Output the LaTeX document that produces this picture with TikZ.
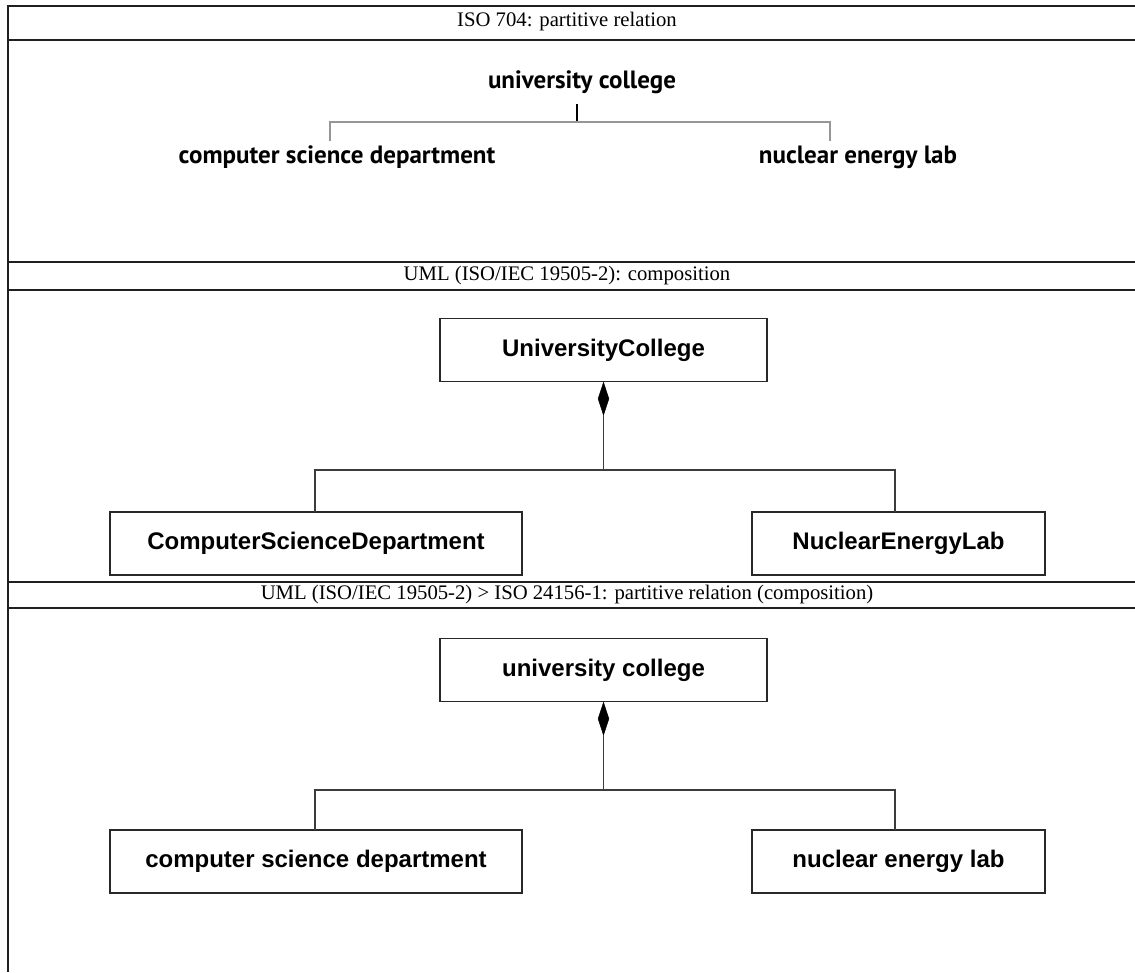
\documentclass[tikz,border=0pt]{standalone}
\usepackage{fontspec}
\setmainfont{Liberation Serif}
\newfontfamily\labfont{PT Sans}
\newfontfamily\umlfont{Liberation Sans}
\usetikzlibrary{shapes.geometric}
\begin{document}
\begin{tikzpicture}[x=1pt,y=-1pt,
  hdrline/.style={line width=2.6pt, draw={rgb,255:red,35;green,31;blue,32}},
  hdrtext/.style={font=\fontsize{20.7}{22}\selectfont, inner sep=0pt},
  labtext/.style={font=\labfont\bfseries\fontsize{25}{27}\selectfont, inner sep=0pt},
  umlbox/.style={draw={rgb,255:red,40;green,40;blue,40}, line width=1.1pt, minimum height=63pt, inner sep=0pt, font=\umlfont\bfseries\fontsize{24}{26}\selectfont},
  umlline/.style={draw={rgb,255:red,60;green,60;blue,60}, line width=1.1pt},
  grayline/.style={draw={rgb,255:red,150;green,150;blue,150}, line width=1.1pt},
  compdiamond/.style={diamond, fill=black, draw=black, inner sep=0pt, minimum width=11pt, minimum height=33pt, anchor=north}
]
\useasboundingbox (0,0) rectangle (1135,972);
% frame
\draw[hdrline] (8,5) -- (8,972);
\draw[hdrline] (8,6) -- (1135,6);
\draw[hdrline] (8,40) -- (1135,40);
\draw[hdrline] (8,262) -- (1135,262);
\draw[hdrline] (8,290) -- (1135,290);
\draw[hdrline] (8,582) -- (1135,582);
\draw[hdrline] (8,608) -- (1135,608);
% headers
\node[hdrtext] (h1) at (567,22) {ISO 704: partitive relation};
\node[hdrtext] (h2) at (567,276) {UML (ISO/IEC 19505-2): composition};
\node[hdrtext] (h3) at (567,595) {UML (ISO/IEC 19505-2) > ISO 24156-1: partitive relation (composition)};
% section 1
\node[labtext] (a) at (582,82) {university college};
\node[labtext] (b) at (337,157) {computer science department};
\node[labtext] (c) at (858,157) {nuclear energy lab};
\coordinate (aj) at (577,122);
\draw[line width=1.1pt] (577,104) -- (aj);
\draw[grayline] (330,141) |- (aj) -| (830,141);
% section 2
\node[umlbox, minimum width=327pt] (d) at (603.5,350) {UniversityCollege};
\node[umlbox, minimum width=412pt] (e) at (316,543.5) {ComputerScienceDepartment};
\node[umlbox, minimum width=293pt] (f) at (898.5,543.5) {NuclearEnergyLab};
\node[compdiamond] (dd) at (d.south) {};
\coordinate (dj) at (603.5,470);
\draw[umlline] (dd.south) -- (dj);
\draw[umlline] (dj) -| (315,512);
\draw[umlline] (dj) -| (895,512);
% section 3
\node[umlbox, minimum width=327pt] (g) at (603.5,670) {university college};
\node[umlbox, minimum width=412pt] (h) at (316,861.5) {computer science department};
\node[umlbox, minimum width=293pt] (i) at (898.5,861.5) {nuclear energy lab};
\node[compdiamond] (gd) at (g.south) {};
\coordinate (gj) at (603.5,790);
\draw[umlline] (gd.south) -- (gj);
\draw[umlline] (gj) -| (315,830);
\draw[umlline] (gj) -| (895,830);
\end{tikzpicture}
\end{document}
